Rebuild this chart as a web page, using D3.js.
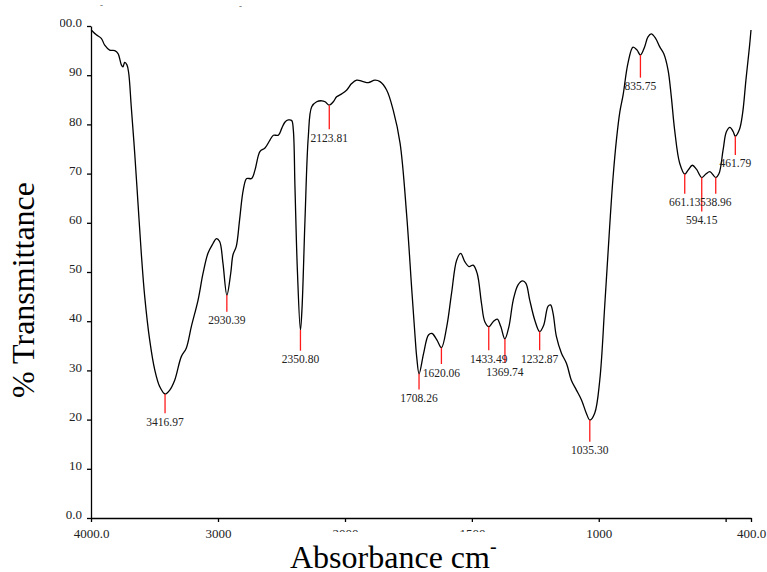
<!DOCTYPE html>
<html>
<head>
<meta charset="utf-8">
<script src="https://cdn.jsdelivr.net/npm/d3@7"></script>
<style>
  body { margin: 0; background: #fff; }
  svg { font-family: "Liberation Serif", "Times New Roman", serif; }
</style>
</head>
<body>
<svg id="chart" width="767" height="572"></svg>
<script>
// spectrum (wavenumber cm-1 / % T)
var wavenumber = [3998, 3958, 3919, 3892, 3853, 3813, 3787, 3761, 3748, 3735, 3717, 3703, 3683, 3656, 3630, 3604,
  3577, 3538, 3498, 3459, 3417, 3380, 3341, 3289, 3250, 3210, 3157, 3118, 3079, 3039, 3013, 2987, 2961, 2930,
  2900, 2882, 2856, 2830, 2801, 2774, 2735, 2709, 2669, 2630, 2591, 2564, 2525, 2498, 2472, 2446, 2420, 2407,
  2394, 2375, 2351, 2339, 2315, 2289, 2262, 2223, 2183, 2157, 2124, 2092, 2066, 2026, 1993, 1974, 1954, 1928,
  1908, 1882, 1862, 1836, 1810, 1783, 1757, 1737, 1724, 1717, 1708, 1690, 1671, 1657, 1638, 1620, 1599, 1580,
  1560, 1544, 1528, 1511, 1495, 1479, 1462, 1449, 1433, 1416, 1400, 1386, 1370, 1354, 1337, 1318, 1300, 1287,
  1272, 1252, 1233, 1217, 1200, 1190, 1180, 1167, 1147, 1127, 1108, 1088, 1068, 1049, 1035, 1016, 996, 976,
  957, 944, 930, 917, 904, 885, 865, 849, 836, 819, 806, 793, 776, 760, 744, 727, 714, 701, 681, 661, 648, 631,
  615, 594, 578, 562, 539, 526, 510, 497, 483, 470, 462, 446, 433, 420, 406, 400];
var transmittance = [99.2, 98.2, 97.5, 96.1, 95.1, 95.0, 94.4, 92.1, 91.7, 92.6, 92.1, 90.4, 83.6, 74.2, 64.0, 53.8,
  45.0, 36.2, 30.1, 26.7, 25.2, 26.0, 28.0, 32.8, 34.5, 38.9, 44.3, 49.7, 53.8, 55.8, 56.8, 56.2, 51.8, 45.3,
  49.7, 53.5, 55.2, 60.6, 66.7, 69.0, 69.0, 70.7, 74.5, 75.2, 76.8, 77.8, 77.8, 79.2, 80.5, 80.9, 80.8, 78.9,
  67.3, 50.4, 38.2, 42.3, 60.6, 77.5, 83.6, 84.6, 84.8, 84.6, 83.9, 84.6, 85.6, 86.2, 87.0, 88.3, 89.0, 88.7,
  88.5, 89.0, 88.7, 87.0, 82.9, 76.2, 61.6, 46.5, 37.0, 32.5, 29.3, 33.5, 37.2, 37.5, 36.2, 34.6, 38.9, 45.7,
  52.4, 53.8, 52.1, 51.1, 51.4, 49.7, 43.6, 39.9, 38.9, 39.9, 40.4, 38.9, 36.4, 38.9, 44.3, 47.4, 48.2, 47.7,
  44.3, 40.2, 37.9, 39.2, 43.0, 43.3, 41.6, 36.9, 33.5, 31.4, 28.0, 26.0, 24.0, 21.3, 19.9, 21.3, 28.0, 43.5,
  59.2, 69.0, 77.0, 82.5, 86.0, 92.4, 95.7, 95.1, 94.1, 95.8, 97.8, 98.4, 97.5, 95.8, 94.4, 91.1, 85.6, 78.9,
  72.1, 69.9, 70.7, 71.7, 70.9, 69.2, 69.9, 70.4, 69.2, 70.0, 74.8, 78.5, 79.4, 78.5, 77.6, 78.9, 82.3, 89.0,
  95.8, 99.2];

// picked peaks
var peakLabels = ["3416.97", "2930.39", "2350.80", "2123.81", "1708.26", "1620.06", "1433.49", "1369.74",
  "1232.87", "1035.30", "835.75", "661.13", "594.15", "538.96", "461.79"];
var peakWn = [3416.97, 2930.39, 2350.80, 2123.81, 1708.26, 1620.06, 1433.49, 1369.74, 1232.87, 1035.30,
  835.75, 661.13, 594.15, 538.96, 461.79];
var peakT = [25.2, 45.3, 38.2, 83.9, 29.3, 34.6, 38.9, 36.4, 37.9, 19.9, 94.1, 69.9, 69.2, 69.2, 77.6];
var peakEnd = [21.3, 41.9, 34.0, 79.0, 26.1, 31.3, 34.1, 31.5, 34.1, 15.5, 89.5, 65.9, 62.3, 65.9, 73.8];

var xTicks = [4000, 3000, 2000, 1500, 1000, 500, 400];
var xTickLabels = ["4000.0", "3000", "2000", "1500", "1000", "", "400.0"];
var yTicks = [0, 10, 20, 30, 40, 50, 60, 70, 80, 90, 100];
var yTickLabels = ["0.0", "10", "20", "30", "40", "50", "60", "70", "80", "90", "100.0"];

var svg = d3.select("#chart");

// instrument style axis : scale doubles below 2000
var x = d3.scaleLinear().domain([4000, 2000, 400]).range([91, 345, 751]);
var y = d3.scaleLinear().domain([0, 100]).range([518, 26]);

var gx = svg.append("g")
    .attr("transform", "translate(0,518)")
    .call(d3.axisBottom(x).tickValues(xTicks)
        .tickFormat(function(d, i) { return xTickLabels[i]; })
        .tickSize(4).tickSizeOuter(0).tickPadding(7));
var gy = svg.append("g")
    .attr("transform", "translate(91,0)")
    .call(d3.axisLeft(y).tickValues(yTicks)
        .tickFormat(function(d, i) { return yTickLabels[i]; })
        .tickSize(4).tickSizeOuter(0).tickPadding(5));

svg.selectAll(".tick text")
    .attr("font-family", "Liberation Serif")
    .attr("font-size", "13px")
    .attr("fill", "#222");
gy.selectAll(".tick text").attr("dy", "0.05em");
svg.selectAll(".domain, .tick line").attr("stroke", "#000").attr("stroke-width", 1.3);

var line = d3.line()
    .x(function(d, i) { return x(wavenumber[i]); })
    .y(function(d, i) { return y(transmittance[i]); })
    .curve(d3.curveCatmullRom.alpha(0.5));

svg.append("path")
    .datum(wavenumber)
    .attr("d", line)
    .attr("fill", "none")
    .attr("stroke", "#000")
    .attr("stroke-width", 1.3);

// peak markers
var peaks = svg.append("g");
peaks.selectAll("line")
    .data(peakWn)
    .enter().append("line")
    .attr("x1", function(d) { return x(d); })
    .attr("x2", function(d) { return x(d); })
    .attr("y1", function(d, i) { return y(peakT[i]); })
    .attr("y2", function(d, i) { return y(peakEnd[i]); })
    .attr("stroke", "#ff1a1a")
    .attr("stroke-width", 1.3);
peaks.selectAll("text")
    .data(peakWn)
    .enter().append("text")
    .attr("x", function(d) { return x(d); })
    .attr("y", function(d, i) { return y(peakEnd[i]) + 12.5; })
    .attr("text-anchor", "middle")
    .attr("font-size", "11.5px")
    .attr("fill", "#222")
    .text(function(d, i) { return peakLabels[i]; });

// title boxes (they hide part of the tick labels, like the original)
svg.append("rect").attr("x", 0).attr("y", 0).attr("width", 60).attr("height", 40).attr("fill", "#fff");
svg.append("rect").attr("x", 285).attr("y", 532).attr("width", 245).attr("height", 40).attr("fill", "#fff");

svg.append("text")
    .attr("x", 290)
    .attr("y", 568)
    .attr("font-size", "32px")
    .attr("fill", "#000")
    .text("Absorbance cm")
  .append("tspan")
    .attr("dy", "-15")
    .attr("font-size", "20px")
    .text("-");

svg.append("text")
    .attr("transform", "translate(34,290) rotate(-90)")
    .attr("text-anchor", "middle")
    .attr("font-size", "32px")
    .attr("fill", "#000")
    .text("% Transmittance");

// bits of a cut title at the top
svg.append("text").attr("x", 100).attr("y", 8).attr("font-size", "9px").attr("fill", "#555").text("-");
svg.append("text").attr("x", 239).attr("y", 9).attr("font-size", "9px").attr("fill", "#555").text("-");
</script>
</body>
</html>
